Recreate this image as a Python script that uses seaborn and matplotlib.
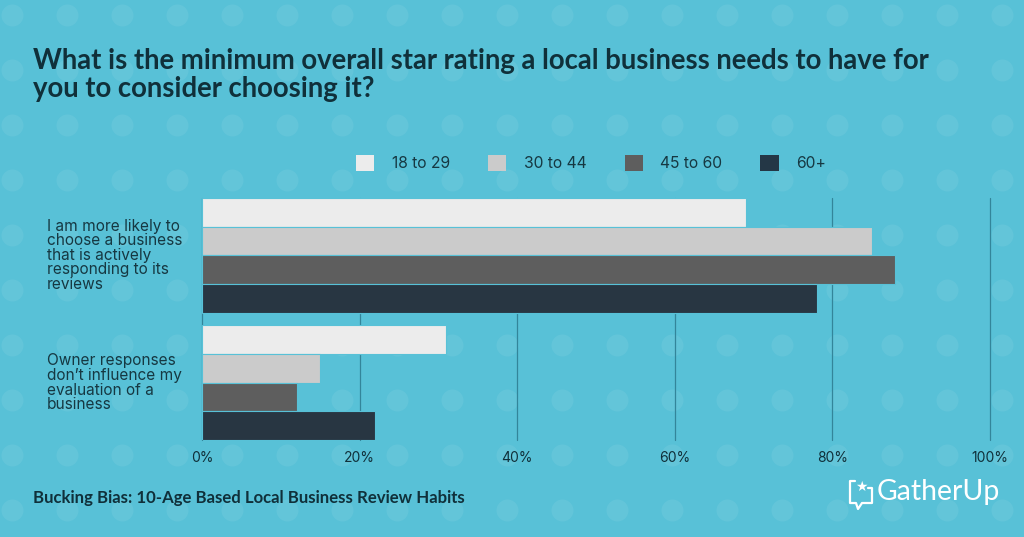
import numpy as np
import pandas as pd
import matplotlib
matplotlib.use("Agg")
import matplotlib.pyplot as plt
import matplotlib.transforms as mtransforms
from matplotlib.patches import Patch
import seaborn as sns

# ------------------------------------------------------------------
# Dados
# ------------------------------------------------------------------
statements = [
    "I am more likely to\nchoose a business\nthat is actively\nresponding to its\nreviews",
    "Owner responses\ndon\u2019t influence my\nevaluation of a\nbusiness",
]
age_groups = ["18 to 29", "30 to 44", "45 to 60", "60+"]
vals_18_29 = [69, 31]
vals_30_44 = [85, 15]
vals_45_60 = [88, 12]
vals_60_plus = [78, 22]
x_ticks = [0, 20, 40, 60, 80, 100]

title = ("What is the minimum overall star rating a local business needs to have for\n"
         "you to consider choosing it?")
footer = "Bucking Bias: 10-Age Based Local Business Review Habits"

bg = "#58c1d7"
dark = "#10303a"
palette = ["#ececec", "#cbcbcb", "#5e5e5e", "#243746"]

rows = []
for grp, vals in zip(age_groups, [vals_18_29, vals_30_44, vals_45_60, vals_60_plus]):
    for st, v in zip(statements, vals):
        rows.append({"statement": st, "age": grp, "value": v})
df = pd.DataFrame(rows)

# ------------------------------------------------------------------
# Figura
# ------------------------------------------------------------------
sns.set_theme(style="white")
plt.rcParams["font.family"] = ["Inter", "DejaVu Sans"]

W, H = 1024, 537
fig = plt.figure(figsize=(W / 100, H / 100), dpi=100, facecolor=bg)

# fundo com bolinhas
bgax = fig.add_axes([0, 0, 1, 1], zorder=0)
bgax.set_xlim(0, W)
bgax.set_ylim(H, 0)
bgax.axis("off")
gx, gy = np.meshgrid(np.arange(12, W + 30, 55), np.arange(15, H + 30, 55))
bgax.scatter(gx.ravel(), gy.ravel(), s=250, color="white", alpha=0.07, linewidths=0)

ax = fig.add_axes([202 / W, 1 - 440 / H, 788 / W, 242 / H], zorder=1)
ax.patch.set_alpha(0)

sns.barplot(data=df, y="statement", x="value", hue="age", orient="h",
            palette=palette, hue_order=age_groups, width=0.9,
            edgecolor=bg, linewidth=0.8, ax=ax, legend=False, zorder=3)

ax.set_xlim(0, 100)
ax.set_ylim(1.45, -0.45)
ax.set_xticks(x_ticks)
ax.set_xticklabels([f"{t}%" for t in x_ticks], fontsize=10, color=dark)
ax.tick_params(axis="x", length=0, pad=8)
ax.set_yticks([])
ax.set_xlabel("")
ax.set_ylabel("")
for s in ax.spines.values():
    s.set_visible(False)
for t in x_ticks:
    ax.axvline(t, color="#33859a", linewidth=0.9, zorder=1, clip_on=False)

# rótulos das categorias
trans = mtransforms.blended_transform_factory(fig.transFigure, ax.transData)
for i, st in enumerate(statements):
    ax.text(47 / W, i, st, transform=trans, ha="left", va="center",
            fontsize=11.1, color="#163842", linespacing=0.97)

# legenda
handles = [Patch(facecolor=c, edgecolor="none") for c in palette]
fig.legend(handles, age_groups, loc="center", bbox_to_anchor=(591 / W, 1 - 163 / H),
           ncol=4, frameon=False, fontsize=11.3, labelcolor="#163842",
           handlelength=1.15, handleheight=1.15, handletextpad=1.1, columnspacing=2.45)

# título e rodapé
fig.text(33 / W, 1 - 48 / H, title, ha="left", va="top", fontsize=19.8,
         fontweight="bold", family=["Lato", "DejaVu Sans"], color=dark, linespacing=1.1)
fig.text(33 / W, 1 - 498 / H, footer, ha="left", va="center", fontsize=12.1,
         fontweight="bold", family=["Lato", "DejaVu Sans"], color=dark)

# logo
fig.text(877 / W, 1 - 492 / H, "GatherUp", ha="left", va="center", fontsize=20.4,
         family=["Lato", "DejaVu Sans"], color="white")
fig.text(861 / W, 1 - 487 / H, "\u2605", ha="center", va="center", fontsize=10,
         family=["DejaVu Sans"], color="white")
bgax.plot([855, 850, 850, 856, 858, 862, 872, 872, 868],
          [481, 481, 503, 503, 509, 503, 503, 488, 488],
          color="white", linewidth=1.6, solid_joinstyle="round", zorder=5)

fig.savefig("out.png", dpi=100, facecolor=bg)
